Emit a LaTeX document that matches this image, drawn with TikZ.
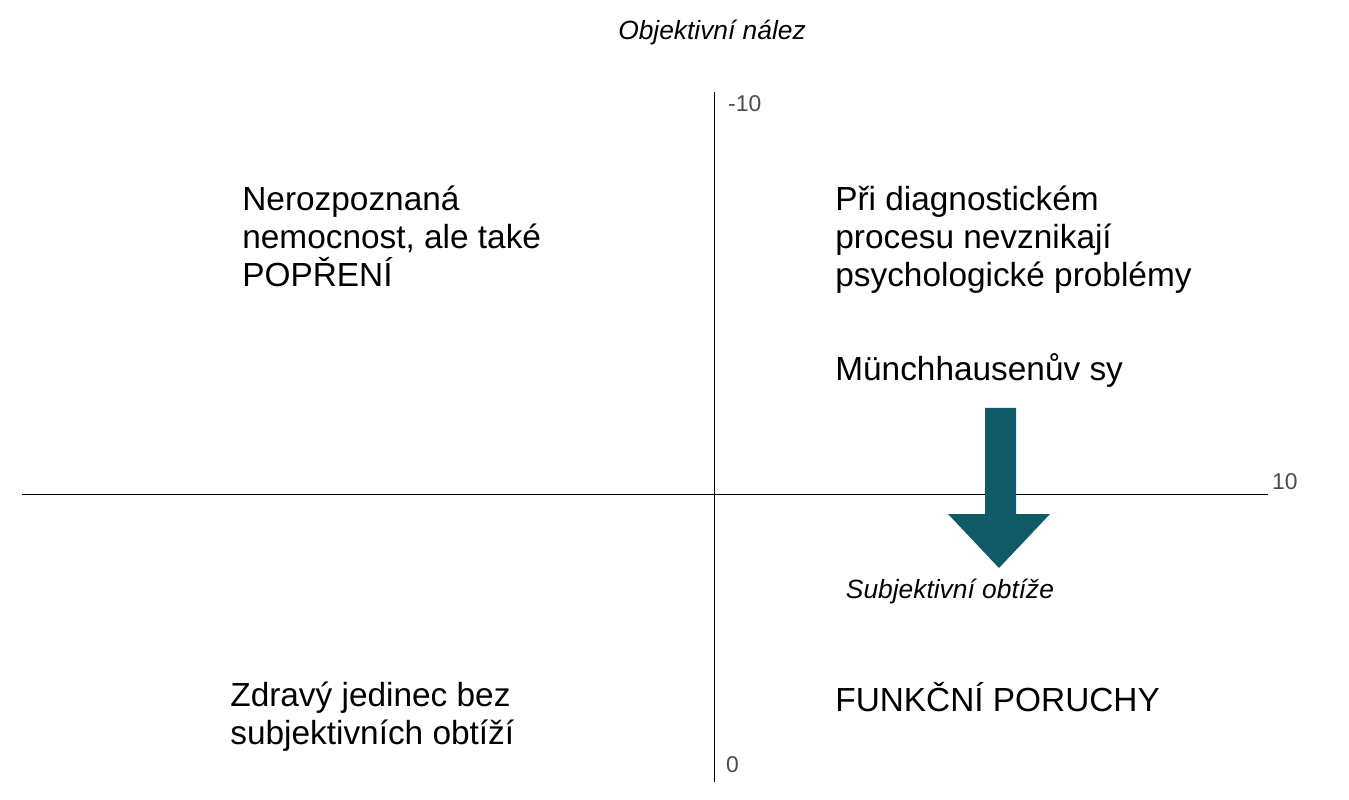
\documentclass[tikz,border=0pt]{standalone}
\usepackage{fontspec}
\setmainfont{Liberation Sans}
\definecolor{teal}{HTML}{0F5A66}
\begin{document}
\begin{tikzpicture}
            [
                x=0.02cm, y=-0.02cm,
                quad/.style={anchor=north west, align=left, inner sep=0pt, font=\fontsize{19}{21.5}\selectfont},
                tick/.style={font=\fontsize{13}{15}\selectfont, text=black!70},
                axislabel/.style={font=\itshape\fontsize{15}{17}\selectfont}
            ]
            \useasboundingbox (0,0) rectangle (1349,800);
            % axes
            \coordinate (top) at (714,92);
            \coordinate (bottom) at (714,782);
            \coordinate (left) at (22,494);
            \coordinate (right) at (1268,494);
            \draw (top) -- (bottom);
            \draw (left) -- (right);
            \node[tick, anchor=west] (tmin) at (722,104) {-10};
            \node[tick, anchor=west] (tmax) at (1266,482) {10};
            \node[tick, anchor=west] (tzero) at (720,765) {0};
            \node[axislabel] (ylab) at (712,33) {Objektivní nález};
            \node[axislabel] (xlab) at (950,592) {Subjektivní obtíže};
            % quadrants
            \node[quad] (q1) at (242,186) {Nerozpoznaná\\nemocnost, ale také\\POPŘENÍ};
            \node[quad] (q2) at (835,186) {Při diagnostickém\\procesu nevznikají\\psychologické problémy};
            \node[quad] (q2b) at (835,353) {Münchhausenův sy};
            \node[quad] (q3) at (230,682) {Zdravý jedinec bez\\subjektivních obtíží};
            \node[quad] (q4) at (835,682) {FUNKČNÍ PORUCHY};
            % arrow
            \fill[teal] (985,408) -- (1016,408) -- (1016,514) -- (1050,514)
                -- (999,568) -- (948,514) -- (985,514) -- cycle;
        \end{tikzpicture}
\end{document}
